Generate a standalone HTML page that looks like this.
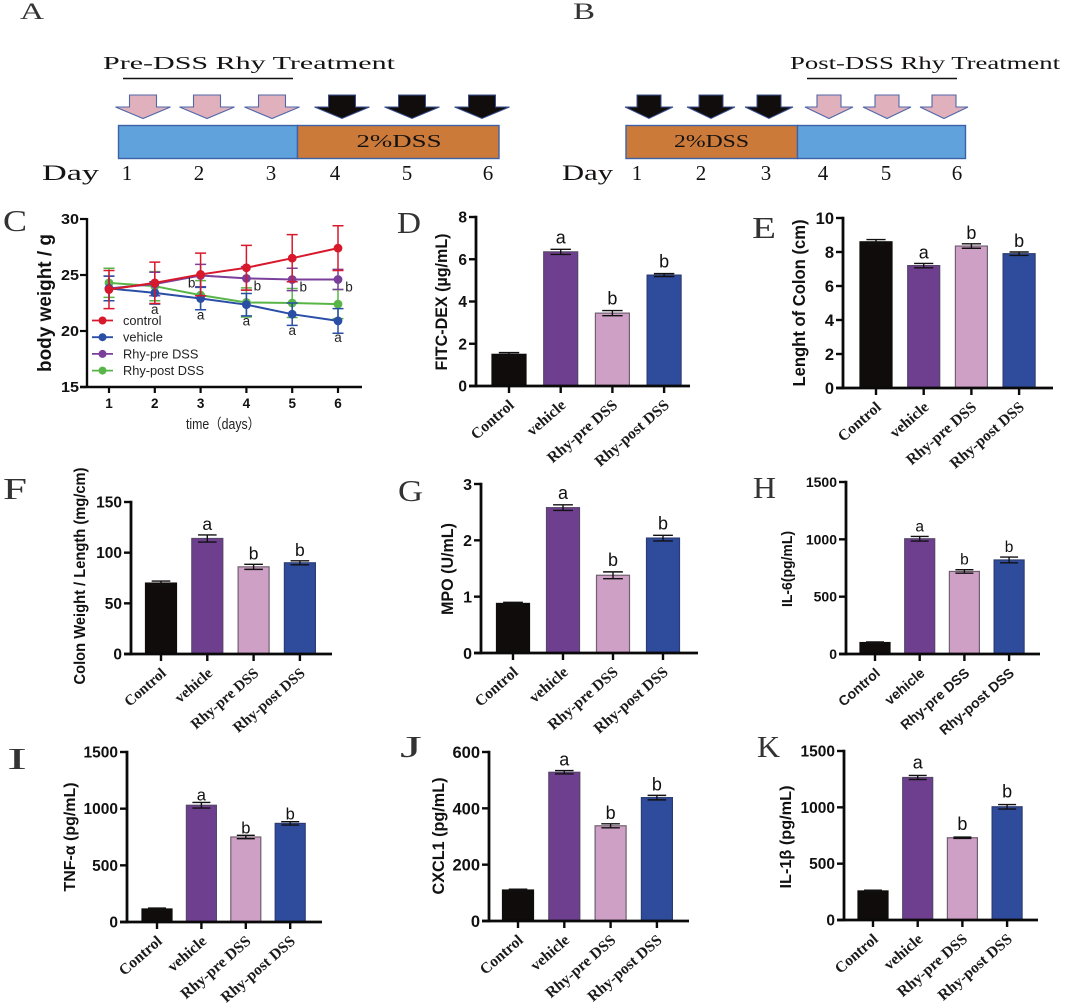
<!DOCTYPE html>
<html lang="en">
<head>
<meta charset="utf-8">
<title>Rhy DSS figure</title>
<style>
html,body{margin:0;padding:0;background:#fff;width:1065px;height:1008px;overflow:hidden}
svg{display:block;filter:blur(0.35px)}
.serif{font-family:"Liberation Serif",serif}
.sans{font-family:"Liberation Sans",sans-serif}
</style>
</head>
<body>
<svg id="figure" xmlns="http://www.w3.org/2000/svg" width="1065" height="1008" viewBox="0 0 1065 1008">
  <rect width="1065" height="1008" fill="#fff"/>

  <g id="schematic-a" class="serif" fill="#151212">
    <text x="20" y="19" font-size="23" fill="#333" textLength="24" lengthAdjust="spacingAndGlyphs">A</text>
    <text x="103" y="69" font-size="18" textLength="292" lengthAdjust="spacingAndGlyphs">Pre-DSS Rhy Treatment</text>
    <line x1="123" x2="293" y1="78.5" y2="78.5" stroke="#111" stroke-width="1.6"/>
    <polygon transform="translate(143,95)" points="-13.5,0 13.5,0 13.5,12 27.5,12 0,23.5 -27.5,12 -13.5,12" fill="#e0b0bc" stroke="#4f67a8" stroke-width="1.1"/>
    <polygon transform="translate(207,95)" points="-13.5,0 13.5,0 13.5,12 27.5,12 0,23.5 -27.5,12 -13.5,12" fill="#e0b0bc" stroke="#4f67a8" stroke-width="1.1"/>
    <polygon transform="translate(272,95)" points="-13.5,0 13.5,0 13.5,12 27.5,12 0,23.5 -27.5,12 -13.5,12" fill="#e0b0bc" stroke="#4f67a8" stroke-width="1.1"/>
    <polygon transform="translate(342,95)" points="-13.5,0 13.5,0 13.5,12 27.5,12 0,23.5 -27.5,12 -13.5,12" fill="#100d0c" stroke="#3a4f90" stroke-width="1"/>
    <polygon transform="translate(412,95)" points="-13.5,0 13.5,0 13.5,12 27.5,12 0,23.5 -27.5,12 -13.5,12" fill="#100d0c" stroke="#3a4f90" stroke-width="1"/>
    <polygon transform="translate(482,95)" points="-13.5,0 13.5,0 13.5,12 27.5,12 0,23.5 -27.5,12 -13.5,12" fill="#100d0c" stroke="#3a4f90" stroke-width="1"/>
    <rect x="118.5" y="125.5" width="179" height="33" fill="#5fa2dc" stroke="#3e62a5" stroke-width="1.4"/>
    <rect x="297.5" y="125.5" width="201.5" height="33" fill="#cc7a3a" stroke="#3e62a5" stroke-width="1.4"/>
    <text x="356.5" y="147" font-size="18" textLength="85" lengthAdjust="spacingAndGlyphs">2%DSS</text>
    <text x="42" y="180" font-size="22" textLength="57" lengthAdjust="spacingAndGlyphs">Day</text>
    <text x="127" y="180" font-size="21" text-anchor="middle">1</text>
    <text x="199" y="180" font-size="21" text-anchor="middle">2</text>
    <text x="271" y="180" font-size="21" text-anchor="middle">3</text>
    <text x="335" y="180" font-size="21" text-anchor="middle">4</text>
    <text x="407" y="180" font-size="21" text-anchor="middle">5</text>
    <text x="488" y="180" font-size="21" text-anchor="middle">6</text>
  </g>

  <g id="schematic-b" class="serif" fill="#151212">
    <text x="573" y="19" font-size="23" fill="#333" textLength="22" lengthAdjust="spacingAndGlyphs">B</text>
    <text x="790" y="69" font-size="18" textLength="270" lengthAdjust="spacingAndGlyphs">Post-DSS Rhy Treatment</text>
    <line x1="807" x2="957" y1="78.5" y2="78.5" stroke="#111" stroke-width="1.6"/>
    <polygon transform="translate(649,95)" points="-12,0 12,0 12,12 24,12 0,23.5 -24,12 -12,12" fill="#100d0c" stroke="#3a4f90" stroke-width="1"/>
    <polygon transform="translate(711,95)" points="-12,0 12,0 12,12 24,12 0,23.5 -24,12 -12,12" fill="#100d0c" stroke="#3a4f90" stroke-width="1"/>
    <polygon transform="translate(769,95)" points="-12,0 12,0 12,12 24,12 0,23.5 -24,12 -12,12" fill="#100d0c" stroke="#3a4f90" stroke-width="1"/>
    <polygon transform="translate(829,95)" points="-12,0 12,0 12,12 24,12 0,23.5 -24,12 -12,12" fill="#e0b0bc" stroke="#4f67a8" stroke-width="1.1"/>
    <polygon transform="translate(887,95)" points="-12,0 12,0 12,12 24,12 0,23.5 -24,12 -12,12" fill="#e0b0bc" stroke="#4f67a8" stroke-width="1.1"/>
    <polygon transform="translate(944,95)" points="-12,0 12,0 12,12 24,12 0,23.5 -24,12 -12,12" fill="#e0b0bc" stroke="#4f67a8" stroke-width="1.1"/>
    <rect x="626" y="125.5" width="171.5" height="33" fill="#cc7a3a" stroke="#3e62a5" stroke-width="1.4"/>
    <rect x="797.5" y="125.5" width="168" height="33" fill="#5fa2dc" stroke="#3e62a5" stroke-width="1.4"/>
    <text x="674" y="147" font-size="18" textLength="75" lengthAdjust="spacingAndGlyphs">2%DSS</text>
    <text x="562" y="180" font-size="22" textLength="51" lengthAdjust="spacingAndGlyphs">Day</text>
    <text x="637" y="180" font-size="21" text-anchor="middle">1</text>
    <text x="701" y="180" font-size="21" text-anchor="middle">2</text>
    <text x="766" y="180" font-size="21" text-anchor="middle">3</text>
    <text x="823" y="180" font-size="21" text-anchor="middle">4</text>
    <text x="886" y="180" font-size="21" text-anchor="middle">5</text>
    <text x="957" y="180" font-size="21" text-anchor="middle">6</text>
  </g>

  <g id="panel-c"></g>
  <g id="panel-d"></g>
  <g id="panel-e"></g>
  <g id="panel-f"></g>
  <g id="panel-g"></g>
  <g id="panel-h"></g>
  <g id="panel-i"></g>
  <g id="panel-j"></g>
  <g id="panel-k"></g>
</svg>

<script>
const categories = ['Control', 'vehicle', 'Rhy-pre DSS', 'Rhy-post DSS'];
const groupLetters = ['', 'a', 'b', 'b'];

const dValues = [1.5, 6.35, 3.45, 5.25];
const dErrors = [0.08, 0.12, 0.12, 0.07];
const dTicks = [0, 2, 4, 6, 8];

const eValues = [8.6, 7.2, 8.35, 7.9];
const eErrors = [0.13, 0.13, 0.13, 0.1];
const eTicks = [0, 2, 4, 6, 8, 10];
const eLetters = ['', 'a', 'b', 'b'];

const fValues = [70, 114, 86, 90];
const fErrors = [2, 3.5, 2.5, 2];
const fTicks = [0, 50, 100, 150];

const gValues = [0.88, 2.58, 1.38, 2.04];
const gErrors = [0.02, 0.05, 0.06, 0.05];
const gTicks = [0, 1, 2, 3];

const hValues = [100, 1005, 720, 820];
const hErrors = [5, 20, 15, 25];
const hTicks = [0, 500, 1000, 1500];

const iValues = [115, 1030, 750, 870];
const iErrors = [8, 25, 15, 15];
const iTicks = [0, 500, 1000, 1500];

const jValues = [110, 528, 338, 438];
const jErrors = [3, 6, 7, 8];
const jTicks = [0, 200, 400, 600];

const kValues = [258, 1265, 730, 1005];
const kErrors = [6, 18, 6, 20];
const kTicks = [0, 500, 1000, 1500];

const days = [1, 2, 3, 4, 5, 6];
const weightTicks = [15, 20, 25, 30];
const seriesNames = ['control', 'vehicle', 'Rhy-pre DSS', 'Rhy-post DSS'];
const controlWeight = [23.7, 24.3, 25.05, 25.65, 26.5, 27.4];
const vehicleWeight = [23.8, 23.4, 22.9, 22.35, 21.5, 20.9];
const preWeight = [23.8, 24.2, 24.95, 24.7, 24.6, 24.6];
const postWeight = [24.3, 24.0, 23.2, 22.55, 22.5, 22.4];
const controlError = [1.7, 1.85, 1.9, 2.0, 2.1, 2.0];
const vehicleError = [1.1, 1.0, 1.0, 1.0, 1.0, 1.1];
const preError = [1.1, 1.05, 1.0, 1.05, 1.0, 0.9];
const postError = [1.3, 1.3, 1.3, 1.3, 1.3, 1.3];
const vehicleLetters = ['', 'a', 'a', 'a', 'a', 'a'];
const preLetters = ['', '', 'b', 'b', 'b', 'b'];

const SVGNS = 'http://www.w3.org/2000/svg';
const barFills = ['#0f0c0b', '#6f3f8f', '#cfa0c5', '#2f4b9b'];
const barStrokes = ['#0f0c0b', '#56466a', '#6f6070', '#2c3c72'];
const lineColors = ['#d7192b', '#2a4ea6', '#7a3f9a', '#58b548'];

function make(parent, tag, attrs, text) {
  const el = document.createElementNS(SVGNS, tag);
  for (const key in attrs) el.setAttribute(key, attrs[key]);
  if (text !== undefined) el.textContent = text;
  parent.appendChild(el);
  return el;
}

function drawBarPanel(id, cfg, values, errors, letters, ticks) {
  const root = document.getElementById(id);
  const maxTick = ticks[ticks.length - 1];
  const yScale = v => cfg.y0 - (v / maxTick) * (cfg.y0 - cfg.yTop);
  const xScale = i => cfg.x0 + i * cfg.step;
  const serif = cfg.labelFont === 'sans' ? '"Liberation Sans",sans-serif' : '"Liberation Serif",serif';

  const panelLabel = make(root, 'text', {x: cfg.letter[1], y: cfg.letter[2], 'font-family': '"Liberation Serif",serif', 'font-size': 31, fill: '#333', textLength: cfg.letter[3], lengthAdjust: 'spacingAndGlyphs'}, cfg.letter[0]);
  
  

  values.forEach((v, i) => {
    const cx = xScale(i);
    const bar = make(root, 'rect', {x: cx - cfg.barW / 2, y: yScale(v), width: cfg.barW, height: cfg.y0 - yScale(v), fill: barFills[i], stroke: barStrokes[i], 'stroke-width': 1.2});
    
    

    const hiY = yScale(v + errors[i]);
    const loY = yScale(v - errors[i]);
    const cap = cfg.barW * 0.3;
    const err = make(root, 'path', {d: `M${cx - cap} ${hiY}H${cx + cap}M${cx} ${hiY}V${loY}M${cx - cap} ${loY}H${cx + cap}`, stroke: '#111', 'stroke-width': 1.4, fill: 'none'});
    
    

    if (letters[i]) {
      const sig = make(root, 'text', {x: cx, y: hiY - cfg.letterGap, 'text-anchor': 'middle', 'font-family': '"Liberation Sans",sans-serif', 'font-size': cfg.letterSize, fill: '#111'}, letters[i]);
      
      
    }

    const tick = make(root, 'line', {x1: cx, x2: cx, y1: cfg.y0, y2: cfg.y0 + 7, stroke: '#0a0a0a', 'stroke-width': 2.4});
    
    

    const lx = cx + 6;
    const ly = cfg.y0 + 20.5;
    const cat = make(root, 'text', {x: lx, y: ly, transform: `rotate(-41 ${lx} ${ly})`, 'text-anchor': 'end', 'font-family': serif, 'font-weight': 'bold', 'font-size': cfg.labelSize, fill: '#1a1a1a'}, categories[i]);
    
    
  });

  const yAxis = make(root, 'line', {x1: cfg.axisX, x2: cfg.axisX, y1: cfg.yTop - 1.2, y2: cfg.y0 + 1.2, stroke: '#0a0a0a', 'stroke-width': 2.8});
  
  

  const xAxis = make(root, 'line', {x1: cfg.axisX - 7, x2: cfg.xEnd, y1: cfg.y0, y2: cfg.y0, stroke: '#0a0a0a', 'stroke-width': 2.8});
  
  

  ticks.forEach(t => {
    const ty = yScale(t);
    const tick = make(root, 'line', {x1: cfg.axisX - 7, x2: cfg.axisX, y1: ty, y2: ty, stroke: '#0a0a0a', 'stroke-width': 2.4});
    
    

    const label = make(root, 'text', {x: cfg.axisX - 9, y: ty + cfg.tickSize * 0.36, 'text-anchor': 'end', 'font-family': '"Liberation Sans",sans-serif', 'font-weight': 'bold', 'font-size': cfg.tickSize, fill: '#111'}, String(t));
    
    
  });

  const title = make(root, 'text', {x: 0, y: 0, transform: `translate(${cfg.titleX},${cfg.titleY}) rotate(-90)`, 'text-anchor': 'middle', 'font-family': '"Liberation Sans",sans-serif', 'font-weight': 'bold', 'font-size': cfg.titleSize, fill: '#111', textLength: cfg.titleLen, lengthAdjust: 'spacingAndGlyphs'}, cfg.title);
  
  
}

function drawLinePanel() {
  const root = document.getElementById('panel-c');
  const yScale = v => 387 - (v - 15) * (168 / 15);
  const xScale = d => 109 + (d - 1) * 45.8;
  const sans = '"Liberation Sans",sans-serif';

  const panelLabel = make(root, 'text', {x: 3, y: 231, 'font-family': '"Liberation Serif",serif', 'font-size': 31, fill: '#333', textLength: 24, lengthAdjust: 'spacingAndGlyphs'}, 'C');
  
  

  const seriesValues = [controlWeight, vehicleWeight, preWeight, postWeight];
  const seriesErrors = [controlError, vehicleError, preError, postError];
  const order = [3, 2, 1, 0];

  order.forEach(s => {
    const vals = seriesValues[s];
    vals.forEach((v, i) => {
      const cx = xScale(days[i]);
      const hi = yScale(v + seriesErrors[s][i]);
      const lo = yScale(v - seriesErrors[s][i]);
      const err = make(root, 'path', {d: `M${cx - 5.5} ${hi}H${cx + 5.5}M${cx} ${hi}V${lo}M${cx - 5.5} ${lo}H${cx + 5.5}`, stroke: lineColors[s], 'stroke-width': 1.5, fill: 'none'});
      
      
    });
    const line = make(root, 'polyline', {points: vals.map((v, i) => xScale(days[i]) + ',' + yScale(v)).join(' '), fill: 'none', stroke: lineColors[s], 'stroke-width': 2});
    
    
    vals.forEach((v, i) => {
      const pt = make(root, 'circle', {cx: xScale(days[i]), cy: yScale(v), r: 4.4, fill: lineColors[s]});
      
      
    });
  });

  vehicleLetters.forEach((t, i) => {
    if (!t) return;
    const sig = make(root, 'text', {x: xScale(days[i]), y: yScale(vehicleWeight[i]) + 21, 'text-anchor': 'middle', 'font-family': sans, 'font-size': 13.5, fill: '#222'}, t);
    
    
  });
  preLetters.forEach((t, i) => {
    if (!t) return;
    const dx = i === 2 ? -9 : 11;
    const sig = make(root, 'text', {x: xScale(days[i]) + dx, y: yScale(preWeight[i]) + 12, 'text-anchor': 'middle', 'font-family': sans, 'font-size': 13.5, fill: '#222'}, t);
    
    
  });

  const yAxis = make(root, 'line', {x1: 87, x2: 87, y1: 218, y2: 388, stroke: '#0a0a0a', 'stroke-width': 2.4});
  
  
  const xAxis = make(root, 'line', {x1: 80, x2: 362, y1: 387, y2: 387, stroke: '#0a0a0a', 'stroke-width': 2.4});
  
  

  weightTicks.forEach(t => {
    const ty = yScale(t);
    const tick = make(root, 'line', {x1: 80, x2: 87, y1: ty, y2: ty, stroke: '#0a0a0a', 'stroke-width': 2.2});
    
    
    const label = make(root, 'text', {x: 79, y: ty + 5, 'text-anchor': 'end', 'font-family': sans, 'font-weight': 'bold', 'font-size': 14.5, fill: '#111', textLength: 18, lengthAdjust: 'spacingAndGlyphs'}, String(t));
    
    
  });

  days.forEach(d => {
    const tx = xScale(d);
    const tick = make(root, 'line', {x1: tx, x2: tx, y1: 387, y2: 393, stroke: '#0a0a0a', 'stroke-width': 2.2});
    
    
    const label = make(root, 'text', {x: tx, y: 408, 'text-anchor': 'middle', 'font-family': sans, 'font-weight': 'bold', 'font-size': 13.5, fill: '#111'}, String(d));
    
    
  });

  const yTitle = make(root, 'text', {transform: 'translate(51,303) rotate(-90)', 'text-anchor': 'middle', 'font-family': sans, 'font-weight': 'bold', 'font-size': 19, fill: '#111', textLength: 138, lengthAdjust: 'spacingAndGlyphs'}, 'body weight / g');
  
  

  const xTitle = make(root, 'text', {x: 186, y: 429, 'font-family': '"Liberation Sans","Noto Sans CJK SC",sans-serif', 'font-size': 14.5, fill: '#222', textLength: 74, lengthAdjust: 'spacingAndGlyphs'}, 'time（days）');
  
  

  seriesNames.forEach((name, i) => {
    const ly = 320.5 + i * 16.7;
    const g = make(root, 'g', {});
    
    
    const sw = make(g, 'line', {x1: 92, x2: 113, y1: ly, y2: ly, stroke: lineColors[i], 'stroke-width': 1.8});
    
    
    const dot = make(g, 'circle', {cx: 102.5, cy: ly, r: 4, fill: lineColors[i]});
    
    
    const label = make(g, 'text', {x: 123, y: ly + 4.5, 'font-family': sans, 'font-size': 12.8, fill: '#222'}, name);
    
    
  });
}

drawLinePanel();

drawBarPanel('panel-d', {axisX: 476, y0: 386, yTop: 217, xEnd: 690, x0: 509, step: 51.7, barW: 34, letterGap: 6, letterSize: 18, labelSize: 15.5, tickSize: 15.5, title: 'FITC-DEX (µg/mL)', titleX: 447, titleY: 302, titleLen: 137, titleSize: 16.5, letter: ['D', 397, 233, 24]}, dValues, dErrors, groupLetters, dTicks);

drawBarPanel('panel-e', {axisX: 843, y0: 388, yTop: 218, xEnd: 1053, x0: 876, step: 47.7, barW: 32, letterGap: 5, letterSize: 18, labelSize: 15.5, tickSize: 16.5, title: 'Lenght of Colon  (cm)', titleX: 805, titleY: 303, titleLen: 167, titleSize: 17.5, letter: ['E', 752, 238, 24]}, eValues, eErrors, eLetters, eTicks);

drawBarPanel('panel-f', {axisX: 131, y0: 654, yTop: 502, xEnd: 332, x0: 161, step: 46.3, barW: 31, letterGap: 5, letterSize: 17.5, labelSize: 15, tickSize: 15.5, title: 'Colon Weight / Length (mg/cm)', titleX: 85, titleY: 576, titleLen: 217, titleSize: 16, letter: ['F', 3, 499, 24]}, fValues, fErrors, groupLetters, fTicks);

drawBarPanel('panel-g', {axisX: 481, y0: 653, yTop: 484, xEnd: 698, x0: 513, step: 50, barW: 33, letterGap: 6, letterSize: 18, labelSize: 15.5, tickSize: 16, title: 'MPO (U/mL)', titleX: 453, titleY: 569, titleLen: 92, titleSize: 16.5, letter: ['G', 398, 501, 25]}, gValues, gErrors, groupLetters, gTicks);

drawBarPanel('panel-h', {axisX: 846, y0: 654, yTop: 482, xEnd: 1040, x0: 875, step: 44.7, barW: 30, letterGap: 5, letterSize: 15.5, labelSize: 14, labelFont: 'sans', tickSize: 14, title: 'IL-6(pg/mL)', titleX: 792, titleY: 569, titleLen: 76, titleSize: 15, letter: ['H', 753, 498, 23]}, hValues, hErrors, groupLetters, hTicks);

drawBarPanel('panel-i', {axisX: 127, y0: 922, yTop: 752, xEnd: 322, x0: 157, step: 44.4, barW: 30, letterGap: 2, letterSize: 16.5, labelSize: 15.5, tickSize: 15.5, title: 'TNF-α (pg/mL)', titleX: 75, titleY: 837, titleLen: 109, titleSize: 16, letter: ['I', 7, 769, 20]}, iValues, iErrors, groupLetters, iTicks);

drawBarPanel('panel-j', {axisX: 489, y0: 921, yTop: 752, xEnd: 689, x0: 518, step: 46.3, barW: 31, letterGap: 5, letterSize: 18, labelSize: 15.5, tickSize: 16.5, title: 'CXCL1 (pg/mL)', titleX: 444, titleY: 836, titleLen: 117, titleSize: 16.5, letter: ['J', 400, 757, 22]}, jValues, jErrors, groupLetters, jTicks);

drawBarPanel('panel-k', {axisX: 844, y0: 920, yTop: 751, xEnd: 1038, x0: 873, step: 44.7, barW: 30, letterGap: 7, letterSize: 18, labelSize: 15.5, tickSize: 15.5, title: 'IL-1β (pg/mL)', titleX: 791, titleY: 837, titleLen: 103, titleSize: 16, letter: ['K', 757, 757, 23]}, kValues, kErrors, groupLetters, kTicks);
</script>
</body>
</html>
